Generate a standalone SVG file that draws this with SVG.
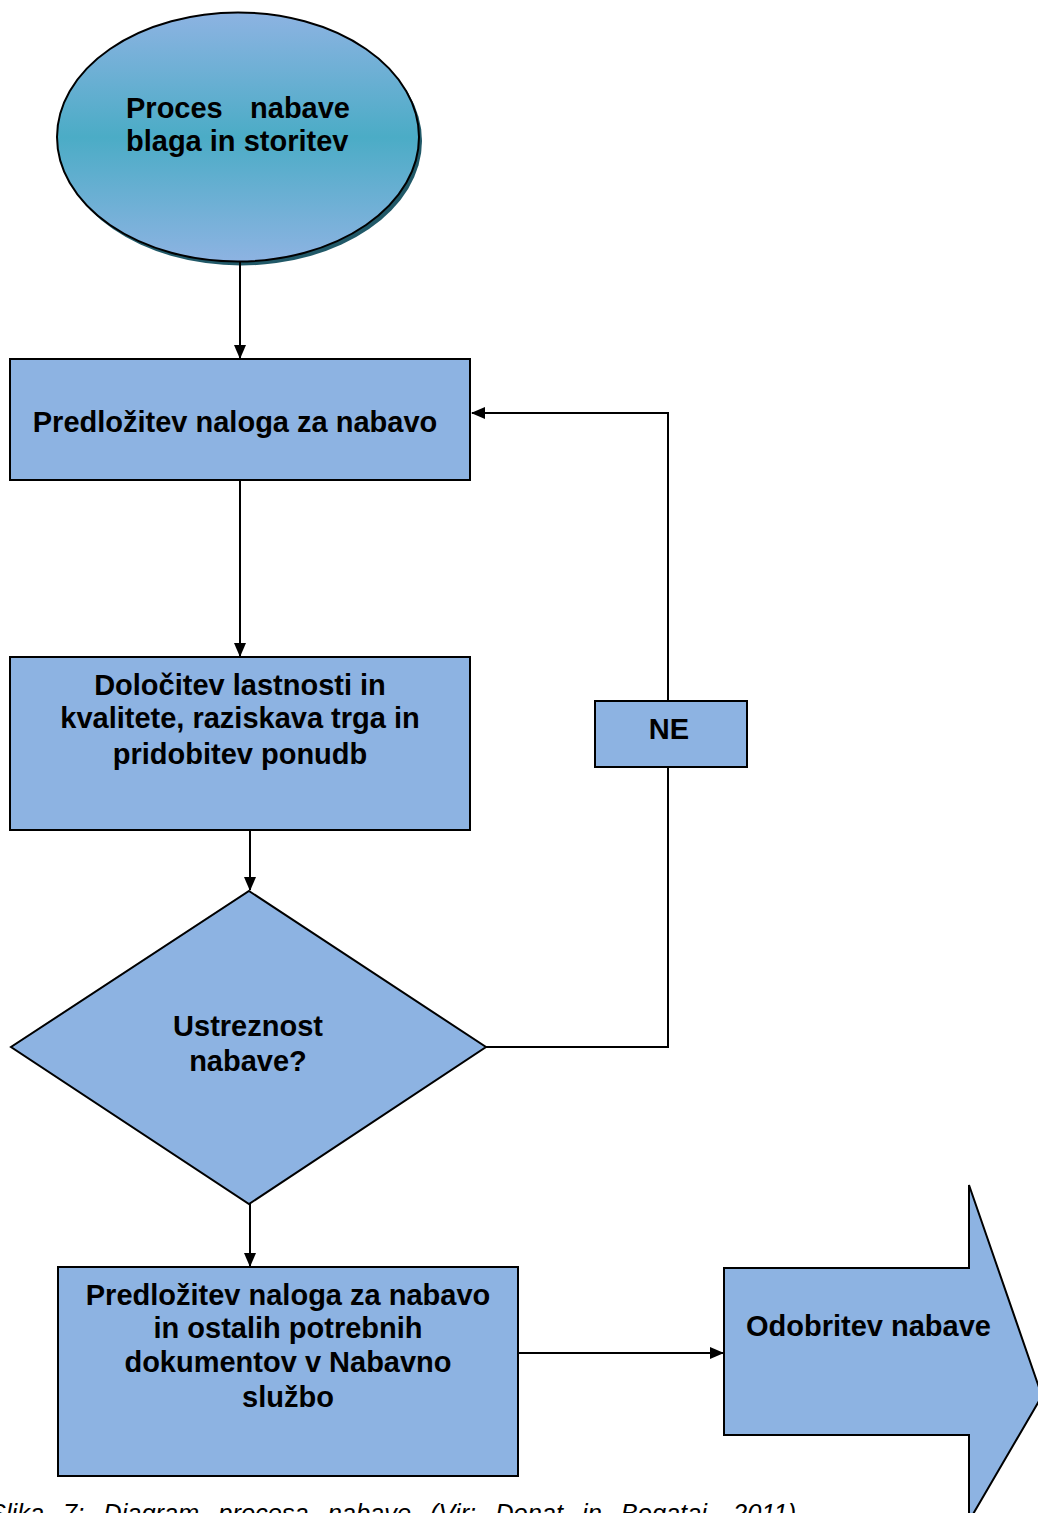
<svg xmlns="http://www.w3.org/2000/svg" width="1038" height="1513" viewBox="0 0 1038 1513">
<style>
.box{fill:#8DB3E2;stroke:#000;stroke-width:2}
.lbl{font-family:"Liberation Sans",Arial,sans-serif;font-weight:bold;font-size:29px;fill:#000}
.c{text-anchor:middle}
.ln{fill:none;stroke:#000;stroke-width:2}
.cap{font-family:"Liberation Sans",Arial,sans-serif;font-style:italic;font-size:25.4px;fill:#000}
</style>
<defs>
<linearGradient id="g1" x1="0" y1="0" x2="0" y2="1">
<stop offset="0" stop-color="#8DB3E2"/>
<stop offset="0.5" stop-color="#4BACC6"/>
<stop offset="1" stop-color="#8DB3E2"/>
</linearGradient>
<marker id="ah" markerUnits="userSpaceOnUse" markerWidth="14" markerHeight="12" refX="13" refY="6" orient="auto">
<path d="M0,0 L14,6 L0,12 z" fill="#000"/>
</marker>
</defs>
<rect width="1038" height="1513" fill="#fff"/>
<g id="start">
<ellipse cx="241" cy="141" rx="181" ry="124.5" fill="#215968"/>
<ellipse cx="238" cy="137" rx="181" ry="124.5" fill="url(#g1)" stroke="#000" stroke-width="2"/>
<text class="lbl" x="126" y="118">Proces</text>
<text class="lbl" x="350" y="118" text-anchor="end">nabave</text>
<text class="lbl" x="126" y="151">blaga in storitev</text>
</g>
<g id="n1">
<rect class="box" x="10" y="359" width="460" height="121"/>
<text class="lbl c" x="235" y="432">Predložitev naloga za nabavo</text>
</g>
<g id="n2">
<rect class="box" x="10" y="657" width="460" height="173"/>
<text class="lbl c" x="240" y="695">Določitev lastnosti in</text>
<text class="lbl c" x="240" y="728">kvalitete, raziskava trga in</text>
<text class="lbl c" x="240" y="764">pridobitev ponudb</text>
</g>
<g id="decision">
<polygon class="box" points="249,891 486,1047 249,1204 11,1047"/>
<text class="lbl c" x="248" y="1036">Ustreznost</text>
<text class="lbl c" x="248" y="1071">nabave?</text>
</g>
<g id="ne">
<rect class="box" x="595" y="701" width="152" height="66"/>
<text class="lbl c" x="669" y="739">NE</text>
</g>
<g id="n3">
<rect class="box" x="58" y="1267" width="460" height="209"/>
<text class="lbl c" x="288" y="1305">Predložitev naloga za nabavo</text>
<text class="lbl c" x="288" y="1338">in ostalih potrebnih</text>
<text class="lbl c" x="288" y="1372">dokumentov v Nabavno</text>
<text class="lbl c" x="288" y="1407">službo</text>
</g>
<g id="end">
<polygon class="box" points="724,1268 969,1268 969,1185 1042,1396 969,1521 969,1435 724,1435"/>
<text class="lbl" x="746" y="1336">Odobritev nabave</text>
</g>
<g id="connectors">
<line class="ln" x1="240" y1="262" x2="240" y2="358" marker-end="url(#ah)"/>
<line class="ln" x1="240" y1="480" x2="240" y2="656" marker-end="url(#ah)"/>
<line class="ln" x1="250" y1="830" x2="250" y2="890" marker-end="url(#ah)"/>
<line class="ln" x1="250" y1="1204" x2="250" y2="1266" marker-end="url(#ah)"/>
<line class="ln" x1="518" y1="1353" x2="723" y2="1353" marker-end="url(#ah)"/>
<polyline class="ln" points="486,1047 668,1047 668,767"/>
<polyline class="ln" points="668,701 668,413 472,413" marker-end="url(#ah)"/>
</g>
<text class="cap" x="-11" y="1522" word-spacing="12">Slika 7: Diagram procesa nabave (Vir: Donat in Bogataj, 2011)</text>
</svg>
